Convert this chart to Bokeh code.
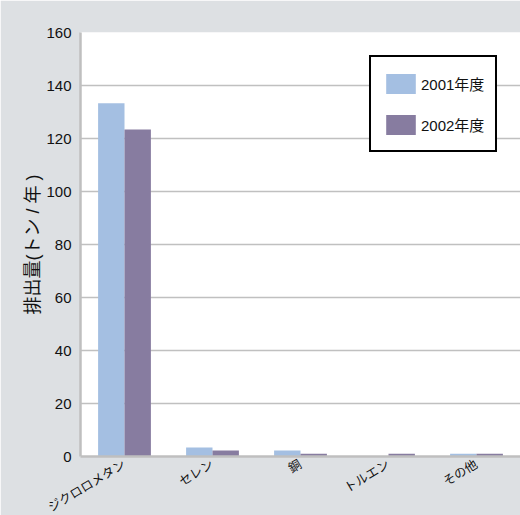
from bokeh.plotting import figure
from bokeh.models import FactorRange, Range1d, ColumnDataSource, Legend, LegendItem, FixedTicker
from bokeh.transform import dodge
from bokeh.embed import file_html
from bokeh.resources import INLINE
import math

categories = ["ジクロロメタン", "セレン", "銅", "トルエン", "その他"]
fy2001 = [133.3, 3.4, 2.3, 0.0, 1.0]
fy2002 = [123.4, 2.3, 1.0, 1.0, 1.0]
series_labels = ["2001年度", "2002年度"]
y_ticks = [0, 20, 40, 60, 80, 100, 120, 140, 160]

FONT = "Liberation Sans, Noto Sans CJK JP, sans-serif"
BG = "#DDE0E3"
C1 = "#A4BFE2"
C2 = "#877CA0"

src = ColumnDataSource(dict(cat=categories, a=fy2001, b=fy2002))

p = figure(frame_width=440, frame_height=424, output_backend="svg", toolbar_location=None,
           x_range=FactorRange(factors=categories, range_padding=0),
           y_range=Range1d(0, 160),
           min_border_left=80, min_border_right=0, min_border_top=32, min_border_bottom=59)
p.background_fill_color = "white"
p.border_fill_color = BG
p.outline_line_color = None

r1 = p.vbar(x=dodge("cat", -0.15, range=p.x_range), top="a", width=0.3, source=src,
            fill_color=C1, line_color=None)
r2 = p.vbar(x=dodge("cat", 0.15, range=p.x_range), top="b", width=0.3, source=src,
            fill_color=C2, line_color=None)

p.xgrid.grid_line_color = None
p.ygrid.grid_line_color = "#C0C0C0"
p.ygrid.grid_line_width = 1.5
p.yaxis.ticker = FixedTicker(ticks=y_ticks)

for ax in (p.xaxis[0], p.yaxis[0]):
    ax.axis_line_color = "#BFBFBF"
    ax.axis_line_width = 2.5
    ax.major_tick_line_color = None
    ax.minor_tick_line_color = None
    ax.major_label_text_font = FONT
    ax.major_label_text_color = "#111111"

p.yaxis.major_label_text_font_size = "15px"
p.xaxis.major_label_text_font_size = "12.5px"
p.yaxis.major_label_standoff = 3
p.yaxis.axis_label = "排出量(トン / 年 )"
p.yaxis.axis_label_text_font = FONT
p.yaxis.axis_label_text_font_size = "18px"
p.yaxis.axis_label_text_font_style = "normal"
p.yaxis.axis_label_text_color = "#111111"
p.yaxis.axis_label_standoff = 0

p.xaxis.major_label_orientation = math.radians(31)
p.xaxis.major_label_standoff = 1

legend = Legend(items=[LegendItem(label=series_labels[0], renderers=[r1]),
                       LegendItem(label=series_labels[1], renderers=[r2])],
                location=(289, 304))
legend.border_line_color = "black"
legend.border_line_alpha = 1
legend.border_line_width = 2
legend.background_fill_color = "white"
legend.background_fill_alpha = 1
legend.padding = 11
legend.spacing = 11
legend.glyph_width = 37
legend.glyph_height = 25
legend.label_height = 30
legend.label_standoff = 2
legend.label_text_font = FONT
legend.label_text_font_size = "15px"
legend.label_text_color = "#111111"
legend.margin = 0
p.add_layout(legend, "center")

open("out.html", "w").write(file_html(p, INLINE))
